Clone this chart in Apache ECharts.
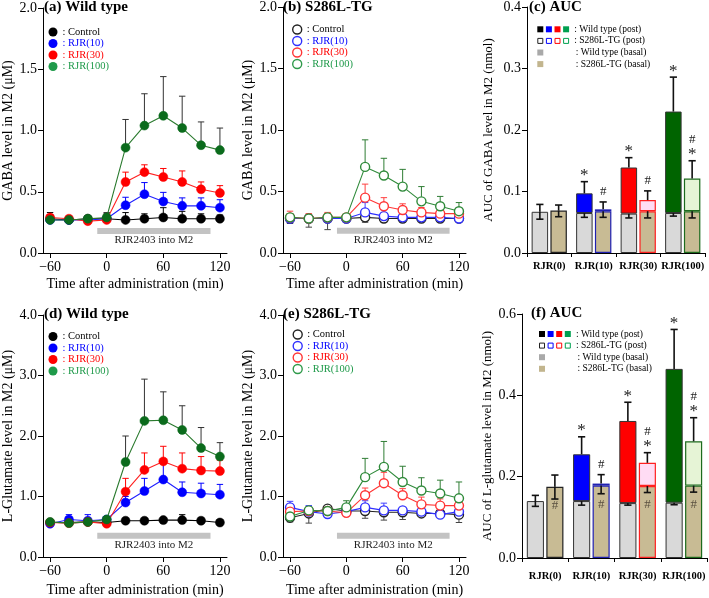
<!DOCTYPE html>
<html><head><meta charset="utf-8">
<script src="https://cdn.jsdelivr.net/npm/echarts@6/dist/echarts.min.js"></script>
<style>html,body{margin:0;padding:0;background:#fff}#c{width:709px;height:598px}</style>
</head><body><div id="c"></div>
<script>
const FONT = "'Liberation Serif','Times New Roman',Times,serif";

// ---------- shared ----------
const times = [-60, -40, -20, 0, 20, 40, 60, 80, 100, 120];
const timeTicks = [-60, 0, 60, 120];
const infusionWindow = [-10, 110];
const infusionLabel = 'RJR2403 into M2';
const groups = ['Control', 'RJR(10)', 'RJR(30)', 'RJR(100)'];
const aucCategories = ['RJR(0)', 'RJR(10)', 'RJR(30)', 'RJR(100)'];

// ---------- (a) GABA, Wild type ----------
const gabaWT_control     = [0.28, 0.27, 0.28, 0.28, 0.27, 0.28, 0.29, 0.28, 0.28, 0.28];
const gabaWT_control_err = [0.05, 0.01, 0.01, 0.04, 0.06, 0.04, 0.08, 0.06, 0.04, 0.03];
const gabaWT_r10         = [0.27, 0.27, 0.27, 0.28, 0.39, 0.48, 0.42, 0.385, 0.385, 0.37];
const gabaWT_r10_err     = [0.02, 0.01, 0.01, 0.02, 0.065, 0.095, 0.075, 0.065, 0.065, 0.065];
const gabaWT_r30         = [0.29, 0.28, 0.26, 0.27, 0.58, 0.66, 0.62, 0.58, 0.52, 0.49];
const gabaWT_r30_err     = [0.02, 0.02, 0.02, 0.02, 0.08, 0.06, 0.07, 0.09, 0.06, 0.06];
const gabaWT_r100        = [0.27, 0.27, 0.28, 0.29, 0.86, 1.04, 1.12, 1.02, 0.88, 0.84];
const gabaWT_r100_err    = [0.02, 0.01, 0.02, 0.04, 0.23, 0.26, 0.32, 0.26, 0.19, 0.18];

// ---------- (b) GABA, S286L-TG ----------
const gabaTG_control     = [0.28, 0.28, 0.28, 0.28, 0.29, 0.28, 0.28, 0.28, 0.28, 0.28];
const gabaTG_control_err = [0.04, 0.07, 0.09, 0.02, 0.04, 0.03, 0.03, 0.02, 0.02, 0.02];
const gabaTG_r10         = [0.28, 0.28, 0.28, 0.28, 0.33, 0.30, 0.29, 0.29, 0.29, 0.28];
const gabaTG_r10_err     = [0.02, 0.02, 0.02, 0.01, 0.08, 0.02, 0.02, 0.01, 0.01, 0.01];
const gabaTG_r30         = [0.29, 0.28, 0.29, 0.29, 0.45, 0.38, 0.35, 0.33, 0.32, 0.32];
const gabaTG_r30_err     = [0.05, 0.04, 0.04, 0.01, 0.11, 0.07, 0.05, 0.04, 0.03, 0.03];
const gabaTG_r100        = [0.29, 0.28, 0.29, 0.29, 0.70, 0.63, 0.54, 0.42, 0.38, 0.34];
const gabaTG_r100_err    = [0.03, 0.03, 0.03, 0.02, 0.22, 0.14, 0.14, 0.12, 0.08, 0.07];

// ---------- (c) AUC GABA ----------
const gabaAUC_wtBasal      = [0.067, 0.065, 0.064, 0.065];
const gabaAUC_wtBasal_err  = [0.012, 0.007, 0.007, 0.005];
const gabaAUC_wtTotal      = [0.067, 0.097, 0.139, 0.230];
const gabaAUC_wtTotal_err  = [0.012, 0.019, 0.016, 0.056];
const gabaAUC_tgBasal      = [0.069, 0.068, 0.068, 0.068];
const gabaAUC_tgBasal_err  = [0.010, 0.010, 0.011, 0.011];
const gabaAUC_tgTotal      = [0.069, 0.071, 0.086, 0.121];
const gabaAUC_tgTotal_err  = [0.009, 0.012, 0.015, 0.029];
const gabaAUC_wtSig        = ['', '*', '*', '*'];
const gabaAUC_tgSig        = ['', '#', '#', '#\n*'];
const gabaAUC_tgBasalSig   = ['', '', '', ''];

// ---------- (d) L-Glutamate, Wild type ----------
const gluWT_control      = [0.57, 0.57, 0.58, 0.57, 0.60, 0.60, 0.61, 0.61, 0.60, 0.57];
const gluWT_control_err  = [0.03, 0.03, 0.03, 0.03, 0.03, 0.03, 0.04, 0.09, 0.04, 0.03];
const gluWT_r10          = [0.55, 0.62, 0.60, 0.62, 0.90, 1.09, 1.28, 1.07, 1.05, 1.03];
const gluWT_r10_err      = [0.05, 0.08, 0.10, 0.05, 0.10, 0.21, 0.27, 0.17, 0.17, 0.17];
const gluWT_r30          = [0.57, 0.56, 0.58, 0.55, 1.08, 1.44, 1.58, 1.46, 1.43, 1.42];
const gluWT_r30_err      = [0.02, 0.02, 0.02, 0.03, 0.22, 0.28, 0.25, 0.26, 0.23, 0.18];
const gluWT_r100         = [0.58, 0.56, 0.58, 0.62, 1.57, 2.25, 2.26, 2.10, 1.80, 1.66];
const gluWT_r100_err     = [0.02, 0.02, 0.02, 0.03, 0.43, 0.69, 0.47, 0.40, 0.34, 0.23];

// ---------- (e) L-Glutamate, S286L-TG ----------
const gluTG_control      = [0.65, 0.72, 0.80, 0.76, 0.76, 0.74, 0.74, 0.72, 0.72, 0.70];
const gluTG_control_err  = [0.07, 0.16, 0.03, 0.05, 0.12, 0.13, 0.12, 0.04, 0.06, 0.13];
const gluTG_r10          = [0.82, 0.75, 0.71, 0.75, 0.82, 0.77, 0.77, 0.75, 0.70, 0.75];
const gluTG_r10_err      = [0.10, 0.10, 0.03, 0.04, 0.11, 0.12, 0.05, 0.05, 0.04, 0.04];
const gluTG_r30          = [0.75, 0.76, 0.76, 0.73, 1.02, 1.22, 1.02, 0.87, 0.85, 0.85];
const gluTG_r30_err      = [0.04, 0.06, 0.04, 0.04, 0.12, 0.18, 0.11, 0.12, 0.11, 0.09];
const gluTG_r100         = [0.67, 0.77, 0.76, 0.82, 1.32, 1.49, 1.24, 1.10, 1.05, 0.97];
const gluTG_r100_err     = [0.04, 0.06, 0.06, 0.11, 0.31, 0.42, 0.26, 0.21, 0.22, 0.27];

// ---------- (f) AUC L-Glutamate ----------
const gluAUC_wtBasal     = [0.140, 0.140, 0.135, 0.136];
const gluAUC_wtBasal_err = [0.013, 0.010, 0.005, 0.005];
const gluAUC_wtTotal     = [0.140, 0.255, 0.337, 0.465];
const gluAUC_wtTotal_err = [0.014, 0.043, 0.046, 0.097];
const gluAUC_tgBasal     = [0.175, 0.178, 0.177, 0.178];
const gluAUC_tgBasal_err = [0.030, 0.020, 0.016, 0.016];
const gluAUC_tgTotal     = [0.175, 0.183, 0.234, 0.287];
const gluAUC_tgTotal_err = [0.029, 0.022, 0.025, 0.058];
const gluAUC_wtSig       = ['', '*', '*', '*'];
const gluAUC_tgSig       = ['', '#', '#\n*', '#\n*'];
const gluAUC_tgBasalSig  = ['#', '#', '#', '#'];

// ---------- styles ----------
const WT_STYLE = [
  {fill:'#000000', line:'#000000', err:'#000000', legend:'#000000', text:'#000000'},
  {fill:'#0000ff', line:'#2020ff', err:'#0000ff', legend:'#0000ff', text:'#0000ff'},
  {fill:'#ff0000', line:'#ff2020', err:'#ff0000', legend:'#ff0000', text:'#ff0000'},
  {fill:'#0b6b1c', line:'#2a7a2e', err:'#333333', legend:'#1f9a4a', text:'#1f9a4a'}
];
const TG_STYLE = [
  {fill:'#ffffff', line:'#222222', err:'#444444', legend:'#222222', text:'#000000'},
  {fill:'#ffffff', line:'#3030ff', err:'#4040ff', legend:'#3030ff', text:'#0000ff'},
  {fill:'#ffffff', line:'#ff3535', err:'#ff4040', legend:'#ff3535', text:'#ff0000'},
  {fill:'#ffffff', line:'#2f8a3a', err:'#2f7d34', legend:'#2f9a4a', text:'#1f9a4a'}
];
const WT_POST_FILL = ['#000000', '#0000ff', '#ff0000', '#006400'];
const TG_POST_FILL = ['#ffffff', '#d4dcff', '#ffdcf4', '#e6f4d6'];
const TG_BORDER    = ['#222222', '#2020b0', '#ff2020', '#1d6b1d'];
const WT_BASAL_FILL = '#d9d9d9';
const TG_BASAL_FILL = '#c8bb94';

const option = {
  animation: false, backgroundColor: '#ffffff',
  grid: [], xAxis: [], yAxis: [], series: [], legend: [], title: [], graphic: []
};

function txt(size, extra) { return Object.assign({fontFamily: FONT, fontSize: size, color: '#000'}, extra || {}); }

function errLineEls(cx, a, b, color, hw, lw) {
  return [
    {type:'line', shape:{x1:cx, y1:a, x2:cx, y2:b}, style:{stroke:color, lineWidth:lw}},
    {type:'line', shape:{x1:cx-hw, y1:b, x2:cx+hw, y2:b}, style:{stroke:color, lineWidth:lw}}
  ];
}

function addLinePanel(p) {
  const gi = option.grid.length;
  option.grid.push(p.grid);
  option.title.push({text: p.title, left: p.titlePos[0], top: p.titlePos[1], padding: 0,
    textStyle: txt(15, {fontWeight: 'bold'})});
  option.xAxis.push({
    type: 'value', gridIndex: gi, min: -67.5, max: 127.5,
    axisLine: {onZero: false, lineStyle: {color: '#000', width: 1}},
    axisTick: {show: true, customValues: timeTicks, length: 5, lineStyle: {color: '#000'}},
    axisLabel: {customValues: timeTicks, formatter: v => v < 0 ? '\u2212' + Math.abs(v) : String(v),
      fontFamily: FONT, fontSize: 14, color: '#000', margin: 7},
    splitLine: {show: false},
    name: 'Time after administration (min)', nameLocation: 'middle', nameGap: p.xNameGap,
    nameTextStyle: txt(14)
  });
  option.yAxis.push({
    type: 'value', gridIndex: gi, min: 0, max: p.yMax, interval: p.yInterval,
    axisLine: {show: true, onZero: false, lineStyle: {color: '#000', width: 1}},
    axisTick: {show: true, length: 5, lineStyle: {color: '#000'}},
    axisLabel: {formatter: v => v.toFixed(1), fontFamily: FONT, fontSize: 14, color: '#000', margin: 6},
    splitLine: {show: false},
    name: p.yName, nameLocation: 'middle', nameGap: p.yNameGap, nameTextStyle: txt(14)
  });
  // infusion bar
  option.series.push({
    type: 'line', xAxisIndex: gi, yAxisIndex: gi, silent: true, symbol: 'none', z: 1,
    data: infusionWindow.map(t => [t, p.infusionLevel]),
    lineStyle: {color: '#c3c3c3', width: 6, cap: 'butt'}
  });
  const mid = (infusionWindow[0] + infusionWindow[1]) / 2;
  option.series.push({
    type: 'custom', xAxisIndex: gi, yAxisIndex: gi, silent: true, z: 1,
    data: [[mid, p.infusionLevel]],
    renderItem: (params, api) => {
      const c = api.coord([api.value(0), api.value(1)]);
      return {type: 'text', x: c[0], y: c[1] + 4,
        style: {text: infusionLabel, fontFamily: FONT, fontSize: 11, fill: '#222', align: 'center', verticalAlign: 'top'}};
    }
  });
  const styles = p.open ? TG_STYLE : WT_STYLE;
  const legendData = [];
  p.data.forEach((d, k) => {
    const st = styles[k];
    const name = p.key + '|' + groups[k];
    const vals = d[0], errs = d[1], dir = p.errDir[k];
    option.series.push({
      type: 'custom', xAxisIndex: gi, yAxisIndex: gi, silent: true, z: 2 + k * 2, clip: false,
      data: times.map((t, i) => [t, vals[i] + dir * errs[i]]),
      renderItem: (params, api) => {
        const i = params.dataIndex;
        const a = api.coord([times[i], vals[i]]);
        const b = api.coord([times[i], vals[i] + dir * errs[i]]);
        return {type: 'group', children: errLineEls(a[0], a[1], b[1], st.err, 3.2, 1)};
      }
    });
    option.series.push({
      type: 'line', name: name, xAxisIndex: gi, yAxisIndex: gi, z: 3 + k * 2,
      data: times.map((t, i) => [t, vals[i]]),
      symbol: 'circle', symbolSize: 9, showAllSymbol: true,
      lineStyle: {color: st.line, width: 1.1},
      itemStyle: p.open ? {color: '#ffffff', borderColor: st.line, borderWidth: 1.4}
                        : {color: st.fill, borderColor: st.fill, borderWidth: 0.5}
    });
    legendData.push({name: name, textStyle: {color: st.text},
      itemStyle: p.open ? {color: '#ffffff', borderColor: st.legend, borderWidth: 1.4}
                        : {color: st.legend, borderWidth: 0}});
  });
  option.legend.push({
    orient: 'vertical', left: p.legendPos[0], top: p.legendPos[1], padding: 0,
    icon: 'circle', itemWidth: 9, itemHeight: 9, itemGap: 0.5, selectedMode: false,
    data: legendData, formatter: n => ': ' + n.split('|')[1],
    textStyle: {fontFamily: FONT, fontSize: 10.5, lineHeight: 9}
  });
}

function addBarPanel(p) {
  const gi = option.grid.length;
  option.grid.push(p.grid);
  option.title.push({text: p.title, left: p.titlePos[0], top: p.titlePos[1], padding: 0,
    textStyle: txt(15, {fontWeight: 'bold'})});
  option.xAxis.push({
    type: 'category', gridIndex: gi, data: aucCategories,
    axisLine: {onZero: false, lineStyle: {color: '#000', width: 1}},
    axisTick: {show: true, length: 4, lineStyle: {color: '#000'}},
    axisLabel: {interval: 0, fontFamily: FONT, fontWeight: 'bold', fontSize: 10.5, color: '#000', margin: p.catMargin}
  });
  option.yAxis.push({
    type: 'value', gridIndex: gi, min: 0, max: p.yMax, interval: p.yInterval,
    axisLine: {show: true, onZero: false, lineStyle: {color: '#000', width: 1}},
    axisTick: {show: true, length: 5, lineStyle: {color: '#000'}},
    axisLabel: {formatter: v => v.toFixed(1), fontFamily: FONT, fontSize: 14, color: '#000', margin: 6},
    splitLine: {show: false},
    name: p.yName, nameLocation: 'middle', nameGap: p.yNameGap, nameTextStyle: txt(13)
  });
  const BW = 0.37, GAP = 0.14;
  const common = {type: 'bar', xAxisIndex: gi, yAxisIndex: gi, barWidth: (BW * 100) + '%', barGap: (GAP * 100) + '%', silent: true, z: 2};
  option.series.push(Object.assign({}, common, {
    stack: p.key + 'wt', data: p.wtBasal.map(v => ({value: v})),
    itemStyle: {color: WT_BASAL_FILL, borderColor: '#333', borderWidth: 1}
  }));
  option.series.push(Object.assign({}, common, {
    stack: p.key + 'wt',
    data: p.wtTotal.map((t, i) => t > p.wtBasal[i]
      ? {value: +(t - p.wtBasal[i]).toFixed(4), itemStyle: {color: WT_POST_FILL[i]}} : '-'),
    itemStyle: {borderColor: '#333', borderWidth: 1}
  }));
  option.series.push(Object.assign({}, common, {
    stack: p.key + 'tg',
    data: p.tgBasal.map((v, i) => ({value: v, itemStyle: {borderColor: TG_BORDER[i]}})),
    itemStyle: {color: TG_BASAL_FILL, borderWidth: 1.2}
  }));
  option.series.push(Object.assign({}, common, {
    stack: p.key + 'tg',
    data: p.tgTotal.map((t, i) => t > p.tgBasal[i]
      ? {value: +(t - p.tgBasal[i]).toFixed(4), itemStyle: {color: TG_POST_FILL[i], borderColor: TG_BORDER[i]}} : '-'),
    itemStyle: {borderWidth: 1.2}
  }));
  const errs = [];
  for (let i = 0; i < 4; i++) {
    errs.push({i, side: 0, from: p.wtTotal[i], to: p.wtTotal[i] + p.wtTotalErr[i]});
    errs.push({i, side: 0, from: p.wtBasal[i], to: p.wtBasal[i] - p.wtBasalErr[i]});
    errs.push({i, side: 1, from: p.tgTotal[i], to: p.tgTotal[i] + p.tgTotalErr[i]});
    errs.push({i, side: 1, from: p.tgBasal[i], to: p.tgBasal[i] - p.tgBasalErr[i]});
  }
  const barCenter = (api, i, side) => {
    const band = api.size([1, 0])[0];
    const bw = band * BW, off = (bw + bw * GAP) / 2;
    return api.coord([i, 0])[0] + (side ? off : -off);
  };
  option.series.push({
    type: 'custom', xAxisIndex: gi, yAxisIndex: gi, silent: true, z: 5, clip: false,
    data: errs.map(e => [e.i, e.to]),
    renderItem: (params, api) => {
      const e = errs[params.dataIndex];
      const cx = barCenter(api, e.i, e.side);
      const a = api.coord([e.i, e.from])[1], b = api.coord([e.i, e.to])[1];
      return {type: 'group', children: errLineEls(cx, a, b, '#111', 3.6, 1.6)};
    }
  });
  const marks = [];
  for (let i = 0; i < 4; i++) {
    if (p.wtSig[i]) marks.push({i, side: 0, y: p.wtTotal[i] + p.wtTotalErr[i], s: p.wtSig[i], inside: false});
    if (p.tgSig[i]) marks.push({i, side: 1, y: p.tgTotal[i] + p.tgTotalErr[i], s: p.tgSig[i], inside: false});
    if (p.tgBasalSig[i]) marks.push({i, side: 1, y: p.tgBasal[i], s: p.tgBasalSig[i], inside: true});
  }
  option.series.push({
    type: 'custom', xAxisIndex: gi, yAxisIndex: gi, silent: true, z: 6, clip: false,
    data: marks.map(m => [m.i, m.y]),
    renderItem: (params, api) => {
      const m = marks[params.dataIndex];
      const cx = barCenter(api, m.i, m.side);
      const top = api.coord([m.i, m.y])[1];
      const children = [];
      if (m.inside) {
        children.push({type: 'text', x: cx, y: top + 19,
          style: {text: m.s, fontFamily: FONT, fontSize: 13, fill: '#5a5040', align: 'center', verticalAlign: 'middle'}});
      } else {
        const parts = m.s.split('\n').reverse();
        let y = top - 10;
        parts.forEach(s => {
          const isStar = s === '*';
          children.push({type: 'text', x: cx, y: y + (isStar ? 4 : 0),
            style: {text: s, fontFamily: FONT, fontSize: isStar ? 17 : 13, fill: '#222', align: 'center', verticalAlign: 'middle'}});
          y -= 11;
        });
      }
      return {type: 'group', children};
    }
  });
  const x0 = p.legendPos[0], y0 = p.legendPos[1];
  const rowH = 11.6, sq = 6, pitch = 8.6, tx = x0 + 37;
  const rows = [': Wild type (post)', ': S286L-TG (post)', ': Wild type (basal)', ': S286L-TG (basal)'];
  const legendFill = ['#000000', '#0000ff', '#ff0000', '#00a050'];
  for (let k = 0; k < 4; k++) {
    option.graphic.push({type: 'rect', shape: {x: x0 + k * pitch, y: y0 - sq / 2, width: sq, height: sq},
      style: {fill: legendFill[k]}, silent: true});
    option.graphic.push({type: 'rect', shape: {x: x0 + k * pitch + 0.5, y: y0 + rowH - sq / 2 + 0.5, width: sq - 1, height: sq - 1},
      style: {fill: '#ffffff', stroke: legendFill[k] === '#000000' ? '#222' : legendFill[k], lineWidth: 1}, silent: true});
  }
  option.graphic.push({type: 'rect', shape: {x: x0, y: y0 + 2 * rowH - sq / 2, width: sq, height: sq}, style: {fill: '#a9a9a9'}, silent: true});
  option.graphic.push({type: 'rect', shape: {x: x0, y: y0 + 3 * rowH - sq / 2, width: sq, height: sq}, style: {fill: '#c2b58e'}, silent: true});
  rows.forEach((r, k) => {
    option.graphic.push({type: 'text', x: tx + (k >= 2 ? 1.5 : 0), y: y0 + k * rowH, silent: true,
      style: {text: r, fontFamily: FONT, fontSize: 9.5, fill: '#000', verticalAlign: 'middle'}});
  });
}

addLinePanel({
  key: 'a', grid: {left: 43, top: 8, width: 184, height: 245},
  title: '(a) Wild type', titlePos: [44, 0], yMax: 2.0, yInterval: 0.5,
  yName: 'GABA level in M2 (\u03bcM)', yNameGap: 28, xNameGap: 24, infusionLevel: 0.18,
  open: false, errDir: [1, 1, 1, 1], legendPos: [48.5, 26.5],
  data: [[gabaWT_control, gabaWT_control_err], [gabaWT_r10, gabaWT_r10_err],
         [gabaWT_r30, gabaWT_r30_err], [gabaWT_r100, gabaWT_r100_err]]
});
addLinePanel({
  key: 'b', grid: {left: 283, top: 7, width: 183, height: 246},
  title: '(b) S286L-TG', titlePos: [283, 0], yMax: 2.0, yInterval: 0.5,
  yName: 'GABA level in M2 (\u03bcM)', yNameGap: 26, xNameGap: 24, infusionLevel: 0.18,
  open: true, errDir: [-1, 1, 1, 1], legendPos: [292, 24],
  data: [[gabaTG_control, gabaTG_control_err], [gabaTG_r10, gabaTG_r10_err],
         [gabaTG_r30, gabaTG_r30_err], [gabaTG_r100, gabaTG_r100_err]]
});
addBarPanel({
  key: 'c', grid: {left: 527, top: 7, width: 178, height: 246},
  title: '(c) AUC', titlePos: [529, 0], yMax: 0.4, yInterval: 0.1,
  yName: 'AUC of GABA level in M2 (nmol)', yNameGap: 32, catMargin: 8, legendPos: [537.3, 29.3],
  wtBasal: gabaAUC_wtBasal, wtBasalErr: gabaAUC_wtBasal_err, wtTotal: gabaAUC_wtTotal, wtTotalErr: gabaAUC_wtTotal_err,
  tgBasal: gabaAUC_tgBasal, tgBasalErr: gabaAUC_tgBasal_err, tgTotal: gabaAUC_tgTotal, tgTotalErr: gabaAUC_tgTotal_err,
  wtSig: gabaAUC_wtSig, tgSig: gabaAUC_tgSig, tgBasalSig: gabaAUC_tgBasalSig
});
addLinePanel({
  key: 'd', grid: {left: 43, top: 315, width: 184, height: 243},
  title: '(d) Wild type', titlePos: [44, 307], yMax: 4.0, yInterval: 1.0,
  yName: 'L-Glutamate level in M2 (\u03bcM)', yNameGap: 28, xNameGap: 26, infusionLevel: 0.35,
  open: false, errDir: [1, 1, 1, 1], legendPos: [48.5, 331],
  data: [[gluWT_control, gluWT_control_err], [gluWT_r10, gluWT_r10_err],
         [gluWT_r30, gluWT_r30_err], [gluWT_r100, gluWT_r100_err]]
});
addLinePanel({
  key: 'e', grid: {left: 283, top: 315, width: 183, height: 243},
  title: '(e) S286L-TG', titlePos: [283, 307], yMax: 4.0, yInterval: 1.0,
  yName: 'L-Glutamate level in M2 (\u03bcM)', yNameGap: 26, xNameGap: 26, infusionLevel: 0.35,
  open: true, errDir: [-1, 1, 1, 1], legendPos: [292.5, 329],
  data: [[gluTG_control, gluTG_control_err], [gluTG_r10, gluTG_r10_err],
         [gluTG_r30, gluTG_r30_err], [gluTG_r100, gluTG_r100_err]]
});
addBarPanel({
  key: 'f', grid: {left: 522, top: 314, width: 185, height: 244},
  title: '(f) AUC', titlePos: [531, 306], yMax: 0.6, yInterval: 0.2,
  yName: 'AUC of L-glutamate level in M2 (nmol)', yNameGap: 28, catMargin: 13, legendPos: [539, 334],
  wtBasal: gluAUC_wtBasal, wtBasalErr: gluAUC_wtBasal_err, wtTotal: gluAUC_wtTotal, wtTotalErr: gluAUC_wtTotal_err,
  tgBasal: gluAUC_tgBasal, tgBasalErr: gluAUC_tgBasal_err, tgTotal: gluAUC_tgTotal, tgTotalErr: gluAUC_tgTotal_err,
  wtSig: gluAUC_wtSig, tgSig: gluAUC_tgSig, tgBasalSig: gluAUC_tgBasalSig
});

const chart = echarts.init(document.getElementById('c'), null, {renderer: 'canvas'});
chart.setOption(option);
</script>
</body></html>
